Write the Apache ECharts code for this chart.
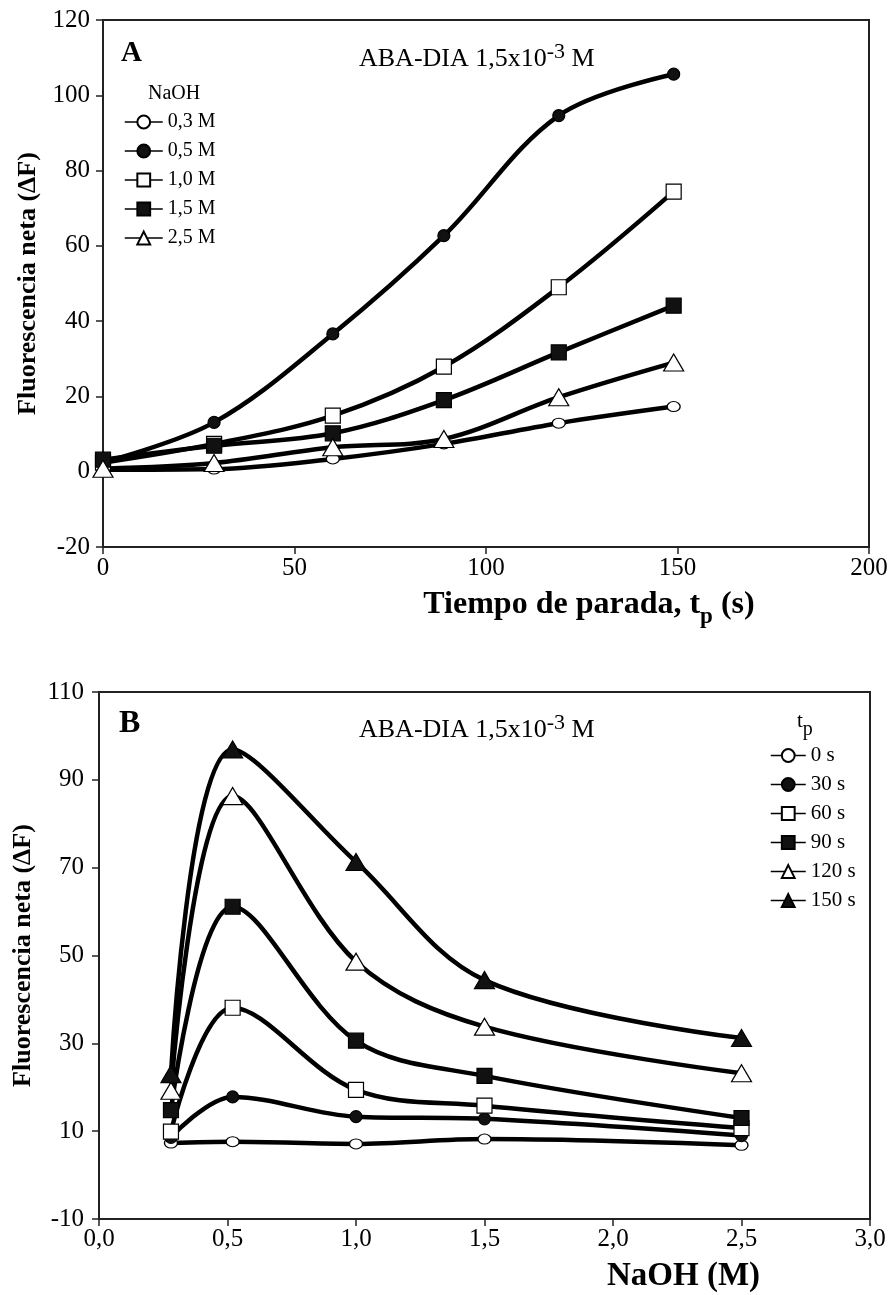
<!DOCTYPE html>
<html>
<head>
<meta charset="utf-8">
<script src="https://cdn.jsdelivr.net/npm/echarts@6/dist/echarts.min.js"></script>
<style>
  html, body { margin: 0; padding: 0; background: #fff; }
  #chart { width: 893px; height: 1295px; }
</style>
</head>
<body>
<div id="chart"></div>
<script>
// Panel A: fluorescence vs stop time, one curve per NaOH concentration
const stopTimes = [0, 29, 60, 89, 119, 149];
const naoh03 = [0.5, 0.7, 3.4, 7.4, 12.9, 17.3];
const naoh05 = [2.5, 13.1, 36.6, 62.7, 94.6, 105.6];
const naoh10 = [2.4, 7.4, 14.9, 27.9, 49.0, 74.4];
const naoh15 = [3.2, 6.9, 10.2, 19.0, 31.7, 44.1];
const naoh25 = [0.8, 2.3, 6.5, 8.7, 19.8, 29.0];
const namesA = ['0,3 M', '0,5 M', '1,0 M', '1,5 M', '2,5 M'];

// Panel B: fluorescence vs NaOH concentration, one curve per stop time
const naohConc = [0.28, 0.52, 1.0, 1.5, 2.5];
const tp0 = [7.3, 7.6, 7.1, 8.2, 6.8];
const tp30 = [8.6, 17.8, 13.3, 12.8, 9.0];
const tp60 = [9.9, 38.1, 19.4, 15.8, 10.7];
const tp90 = [14.8, 61.1, 30.6, 22.6, 13.0];
const tp120 = [19.2, 86.3, 48.6, 33.8, 23.2];
const tp150 = [23.0, 96.9, 71.3, 44.4, 31.2];
const namesB = ['0 s', '30 s', '60 s', '90 s', '120 s', '150 s'];

const ticksB_y = [-10, 10, 30, 50, 70, 90, 110];

const serif = 'Liberation Serif';

const pairs = (xs, ys) => ys.map((y, i) => [xs[i], y]);

// marker looks: open / filled circle, square, triangle
const marks = {
  openCircle: { symbol: 'circle', symbolSize: [13, 10], fill: '#fff' },
  fullCircle: { symbol: 'circle', symbolSize: 12, fill: '#111' },
  openSquare: { symbol: 'rect', symbolSize: 15, fill: '#fff' },
  fullSquare: { symbol: 'rect', symbolSize: 15, fill: '#111' },
  openTri: { symbol: 'triangle', symbolSize: [20, 17], fill: '#fff' },
  fullTri: { symbol: 'triangle', symbolSize: [20, 17], fill: '#111' }
};

const makeSeries = (name, data, m, axis) => ({
  name: name,
  type: 'line',
  xAxisIndex: axis,
  yAxisIndex: axis,
  data: data,
  smooth: 0.35,
  symbol: m.symbol,
  symbolSize: m.symbolSize,
  showAllSymbol: true,
  lineStyle: { color: '#000', width: 4.5 },
  itemStyle: { color: m.fill, borderColor: '#000', borderWidth: 1.2 },
  emphasis: { disabled: true },
  z: 3
});

const axisLineStyle = { onZero: false, lineStyle: { color: '#222', width: 2 } };
const tickStyle = { show: true, inside: false, length: 7, lineStyle: { color: '#222', width: 1.5 } };
const labelStyle = { color: '#000', fontFamily: serif, fontSize: 25 };
const comma = (v) => v.toFixed(1).replace('.', ',');

const plain = (size, pad) => ({ fontFamily: serif, fontWeight: 'normal', fontSize: size, color: '#000', verticalAlign: 'bottom', padding: pad || 0 });

const chart = echarts.init(document.getElementById('chart'), null, { renderer: 'canvas' });

const option = {
  animation: false,
  backgroundColor: '#fff',
  title: [
    { text: 'A', left: 116, top: 34, textStyle: { fontFamily: serif, fontWeight: 'bold', fontSize: 29, color: '#000' } },
    {
      text: '{n|ABA-DIA 1,5x10}{s|-3}{n| M}', left: 354, top: 36,
      textStyle: { fontWeight: 'normal', rich: { n: plain(26), s: plain(22, [0, 0, 9, 0]) } }
    },
    { text: 'NaOH', left: 143, top: 79, textStyle: { fontFamily: serif, fontWeight: 'normal', fontSize: 20, color: '#000' } },
    { text: 'B', left: 114, top: 703, textStyle: { fontFamily: serif, fontWeight: 'bold', fontSize: 32, color: '#000' } },
    {
      text: '{n|ABA-DIA 1,5x10}{s|-3}{n| M}', left: 354, top: 707,
      textStyle: { fontWeight: 'normal', rich: { n: plain(26), s: plain(22, [0, 0, 9, 0]) } }
    },
    {
      text: '{n|t}{s|p}', left: 792, top: 706,
      textStyle: { fontWeight: 'normal', rich: { n: plain(21, [0, 0, 8, 0]), s: plain(20) } }
    }
  ],
  legend: [
    {
      data: namesA,
      orient: 'vertical',
      left: 119,
      top: 107,
      itemWidth: 38,
      itemHeight: 16,
      itemGap: 9,
      selectedMode: false,
      lineStyle: { width: 1.5, color: '#000' },
      textStyle: { fontFamily: serif, fontSize: 20, color: '#000' }
    },
    {
      data: namesB,
      orient: 'vertical',
      left: 765,
      top: 740,
      itemWidth: 35,
      itemHeight: 16,
      itemGap: 8,
      selectedMode: false,
      lineStyle: { width: 1.5, color: '#000' },
      textStyle: { fontFamily: serif, fontSize: 21, color: '#000' }
    }
  ],
  grid: [
    { left: 103, top: 20, width: 766, height: 527, show: true, borderColor: '#222', borderWidth: 2 },
    { left: 99, top: 692, width: 771, height: 527, show: true, borderColor: '#222', borderWidth: 2 }
  ],
  xAxis: [
    {
      gridIndex: 0, type: 'value', min: 0, max: 200, interval: 50,
      axisLine: axisLineStyle, axisTick: tickStyle, splitLine: { show: false },
      axisLabel: Object.assign({ margin: 9 }, labelStyle),
      name: '{b|Tiempo de parada, t}{sub|p}{b| (s)}',
      nameLocation: 'middle',
      nameGap: 42,
      nameTextStyle: {
        padding: [0, 0, 0, 206],
        rich: {
          b: { fontFamily: serif, fontWeight: 'bold', fontSize: 32, color: '#000', verticalAlign: 'bottom', padding: [0, 0, 8, 0] },
          sub: { fontFamily: serif, fontWeight: 'bold', fontSize: 23, color: '#000', verticalAlign: 'bottom' }
        }
      }
    },
    {
      gridIndex: 1, type: 'value', min: 0, max: 3, interval: 0.5,
      axisLine: axisLineStyle, axisTick: tickStyle, splitLine: { show: false },
      axisLabel: Object.assign({ margin: 8, formatter: comma }, labelStyle),
      name: 'NaOH (M)',
      nameLocation: 'middle',
      nameGap: 41,
      nameTextStyle: { fontFamily: serif, fontWeight: 'bold', fontSize: 33, color: '#000', padding: [0, 0, 0, 398] }
    }
  ],
  yAxis: [
    {
      gridIndex: 0, type: 'value', min: -20, max: 120, interval: 20,
      axisLine: axisLineStyle, axisTick: tickStyle, splitLine: { show: false },
      axisLabel: Object.assign({ margin: 13 }, labelStyle),
      name: 'Fluorescencia neta (ΔF)',
      nameLocation: 'middle',
      nameRotate: 90,
      nameGap: 62,
      nameTextStyle: { fontFamily: serif, fontWeight: 'bold', fontSize: 26, color: '#000' }
    },
    {
      gridIndex: 1, type: 'value', min: -10, max: 110, interval: 10,
      axisLine: axisLineStyle,
      axisTick: Object.assign({ customValues: ticksB_y }, tickStyle),
      splitLine: { show: false },
      axisLabel: Object.assign({ margin: 15, customValues: ticksB_y }, labelStyle),
      name: 'Fluorescencia neta (ΔF)',
      nameLocation: 'middle',
      nameRotate: 90,
      nameGap: 58,
      nameTextStyle: { fontFamily: serif, fontWeight: 'bold', fontSize: 26, color: '#000' }
    }
  ],
  series: [
    makeSeries(namesA[0], pairs(stopTimes, naoh03), marks.openCircle, 0),
    makeSeries(namesA[1], pairs(stopTimes, naoh05), marks.fullCircle, 0),
    makeSeries(namesA[2], pairs(stopTimes, naoh10), marks.openSquare, 0),
    makeSeries(namesA[3], pairs(stopTimes, naoh15), marks.fullSquare, 0),
    makeSeries(namesA[4], pairs(stopTimes, naoh25), marks.openTri, 0),

    makeSeries(namesB[0], pairs(naohConc, tp0), marks.openCircle, 1),
    makeSeries(namesB[1], pairs(naohConc, tp30), marks.fullCircle, 1),
    makeSeries(namesB[2], pairs(naohConc, tp60), marks.openSquare, 1),
    makeSeries(namesB[3], pairs(naohConc, tp90), marks.fullSquare, 1),
    makeSeries(namesB[4], pairs(naohConc, tp120), marks.openTri, 1),
    makeSeries(namesB[5], pairs(naohConc, tp150), marks.fullTri, 1)
  ]
};

chart.setOption(option);
</script>
</body>
</html>
